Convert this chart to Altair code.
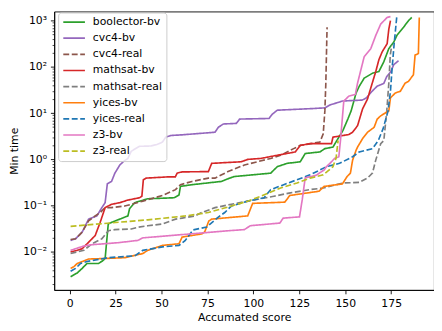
import json
import altair as alt
import pandas as pd

series_names = ["boolector-bv", "cvc4-bv", "cvc4-real", "mathsat-bv", "mathsat-real",
                "yices-bv", "yices-real", "z3-bv", "z3-real"]

boolector_bv_x = [0.5, 4.1, 6.8, 9.4, 15.7, 18.4, 19.3, 21.0, 22.8, 31.7, 32.6, 35.4, 42.5, 56.8, 59.5, 60.3,
                  66.6, 82.6, 87.1, 89.6, 109.4, 113.0, 118.4, 125.5, 128.2, 136.2, 138.9, 143.3, 146.0, 148.7,
                  151.4, 153.2, 155.9, 157.6, 160.3, 164.8, 168.3, 171.0, 173.7, 176.4, 178.1, 181.7, 184.4, 186.2]
boolector_bv_y = [0.0029, 0.0035, 0.0044, 0.0056, 0.0056, 0.0066, 0.0072, 0.040, 0.0435, 0.060, 0.086, 0.116,
                  0.141, 0.148, 0.17, 0.261, 0.284, 0.334, 0.394, 0.426, 0.504, 0.697, 0.822, 0.889, 1.34, 1.45,
                  1.71, 1.85, 2.80, 4.20, 7.45, 11.2, 27.4, 38.1, 57.2, 73.1, 79.4, 130, 249, 345, 480, 720,
                  1000, 1175]

cvc4_bv_x = [0.5, 3.2, 6.8, 10.3, 14.8, 17.5, 19.3, 20.5, 22.8, 24.6, 27.3, 29.1, 31.7, 33.5, 38.0, 44.2,
             47.8, 50.5, 52.3, 55.0, 61.2, 79.1, 80.9, 83.6, 90.7, 92.5, 108.5, 110.3, 113.0, 130.8, 138.9,
             141.6, 148.5, 159.2, 161.4, 164.6, 167.3, 171.0, 172.6, 174.8, 176.4, 179.0]
cvc4_bv_y = [0.0177, 0.0192, 0.0267, 0.0511, 0.060, 0.0906, 0.116, 0.298, 0.334, 0.504, 0.757, 0.889, 1.05,
             1.50, 1.92, 1.95, 2.12, 2.37, 3.03, 3.29, 3.40, 3.87, 4.94, 5.83, 6.01, 7.45, 7.68, 9.52, 11.6,
             12.5, 13.0, 15.0, 18.3, 19.2, 21.2, 29.8, 38.1, 44.2, 62.2, 79.4, 112, 136]

cvc4_real_x = [0.5, 3.2, 6.8, 10.3, 13.9, 16.6, 19.3, 22.8, 30.0, 39.8, 50.5, 57.6, 60.3, 66.6, 75.5, 79.1,
               86.2, 95.1, 109.4, 114.8, 121.9, 125.5, 136.2, 138.0, 138.9, 139.4, 139.8, 140.1]
cvc4_real_y = [0.0185, 0.0192, 0.0267, 0.047, 0.060, 0.071, 0.0906, 0.0906, 0.098, 0.125, 0.166, 0.222,
               0.284, 0.334, 0.394, 0.394, 0.545, 0.757, 1.05, 1.23, 1.71, 2.01, 2.37, 3.57, 11.2, 41.4,
               212, 720]

mathsat_bv_x = [0.5, 4.1, 6.8, 8.6, 11.3, 13.9, 16.6, 19.3, 22.8, 27.3, 31.7, 38.0, 39.3, 40.1, 41.6, 54.1,
                57.5, 58.5, 61.2, 75.5, 77.3, 93.4, 96.9, 104.1, 113.0, 122.8, 125.5, 130.8, 142.5, 143.3,
                151.9, 154.0, 156.7, 159.4, 162.1, 163.9, 166.6, 168.3, 170.1, 172.8, 173.7, 174.6]
mathsat_bv_y = [0.0100, 0.0108, 0.0117, 0.0138, 0.0177, 0.0226, 0.0435, 0.0906, 0.107, 0.116, 0.132, 0.148,
                0.160, 0.363, 0.394, 0.42, 0.42, 0.504, 0.537, 0.545, 0.822, 0.889, 1.0, 1.05, 1.23, 1.45,
                2.01, 2.19, 2.19, 3.03, 3.45, 3.87, 5.37, 12.3, 20.2, 35.1, 79.4, 143, 212, 318, 653, 1000]

mathsat_real_x = [0.5, 7.7, 12.1, 17.5, 21.1, 24.6, 33.5, 37.1, 42.5, 50.5, 57.6, 61.2, 68.3, 71.9, 79.1,
                  88.0, 96.9, 111.2, 120.1, 130.8, 138.0, 148.7, 157.6, 162.1, 164.8, 166.6, 169.3, 171.0,
                  172.6, 173.7, 174.5, 175.3]
mathsat_real_y = [0.0092, 0.0108, 0.0150, 0.0192, 0.0288, 0.0303, 0.0313, 0.0340, 0.0368, 0.040, 0.0511,
                  0.0537, 0.060, 0.071, 0.0906, 0.107, 0.125, 0.160, 0.189, 0.222, 0.241, 0.309, 0.318, 0.394,
                  0.504, 0.966, 2.19, 2.57, 11.2, 44.2, 180, 294]

yices_bv_x = [0.5, 2.3, 4.1, 10.3, 19.3, 30.0, 39.8, 42.5, 50.5, 59.5, 61.2, 71.9, 73.5, 75.7, 77.3, 96.9,
              99.6, 117.1, 119.8, 126.0, 135.7, 138.5, 148.4, 151.0, 152.8, 154.0, 155.9, 156.7, 159.4, 162.1,
              165.7, 167.4, 169.3, 173.7, 174.6, 177.3, 180.0, 182.6, 184.4, 187.1, 188.0, 189.8, 190.3]
yices_bv_y = [0.0044, 0.0048, 0.0056, 0.0070, 0.0072, 0.0075, 0.0092, 0.0108, 0.0138, 0.0150, 0.0209, 0.0245,
              0.0270, 0.0464, 0.0511, 0.060, 0.112, 0.119, 0.166, 0.180, 0.205, 0.261, 0.294, 0.426, 0.504,
              0.966, 1.58, 1.85, 2.80, 3.87, 4.94, 7.45, 8.76, 11.2, 21.5, 27.4, 29.8, 44.8, 48.7, 67.6, 180,
              195, 1175]

yices_real_x = [0.5, 3.2, 5.9, 9.4, 21.1, 35.4, 39.8, 50.5, 59.5, 62.8, 67.1, 74.6, 80.9, 84.4, 88.0, 96.9,
                105.8, 109.4, 116.5, 123.7, 130.8, 139.8, 146.9, 154.0, 157.6, 164.8, 168.0, 170.6, 173.3,
                174.6, 175.5, 176.6, 178.0]
yices_real_y = [0.0038, 0.0044, 0.0056, 0.0062, 0.0075, 0.0082, 0.0108, 0.0128, 0.0138, 0.0174, 0.0298,
                0.0345, 0.0564, 0.071, 0.098, 0.125, 0.148, 0.222, 0.284, 0.363, 0.463, 0.697, 0.822, 1.14,
                1.45, 1.71, 2.57, 4.63, 11.2, 29.8, 93.4, 313, 1175]

z3_bv_x = [0.5, 7.7, 12.1, 26.4, 37.1, 39.8, 87.1, 95.1, 98.3, 114.4, 116.2, 125.1, 126.6, 128.2, 134.1,
           138.5, 139.8, 142.5, 144.2, 146.5, 147.4, 149.2, 151.9, 155.5, 156.7, 160.3, 163.9, 166.6, 169.3,
           172.8, 174.6]
z3_bv_y = [0.0108, 0.0134, 0.0143, 0.0158, 0.0177, 0.0201, 0.0288, 0.0303, 0.0368, 0.042, 0.0537, 0.0572,
           0.136, 0.40, 0.452, 0.592, 0.697, 0.889, 1.05, 1.14, 2.57, 18.3, 23.3, 25.4, 44.8, 166, 249, 480,
           847, 1175, 1230]

z3_real_x = [0.5, 42.5, 63.0, 75.5, 88.0, 96.9, 104.1, 114.8, 123.7, 130.8, 138.0, 143.3, 145.0, 146.1]
z3_real_y = [0.0357, 0.0494, 0.060, 0.071, 0.098, 0.125, 0.160, 0.241, 0.309, 0.394, 0.463, 0.697, 1.07, 2.57]

x_ticks = [0, 25, 50, 75, 100, 125, 150, 175]
y_ticks = [0.01, 0.1, 1, 10, 100, 1000]
y_tick_labels = ["10⁻²", "10⁻¹", "10⁰", "10¹", "10²", "10³"]

colors = ["#2ca02c", "#9467bd", "#8c564b", "#d62728", "#7f7f7f", "#ff7f0e", "#1f77b4", "#e377c2", "#bcbd22"]
dash_solid = [1, 0]
dash_dashed = [6, 2.6]
dashes = [dash_solid, dash_solid, dash_dashed, dash_solid, dash_dashed, dash_solid, dash_dashed,
          dash_solid, dash_dashed]

all_x = [boolector_bv_x, cvc4_bv_x, cvc4_real_x, mathsat_bv_x, mathsat_real_x, yices_bv_x, yices_real_x,
         z3_bv_x, z3_real_x]
all_y = [boolector_bv_y, cvc4_bv_y, cvc4_real_y, mathsat_bv_y, mathsat_real_y, yices_bv_y, yices_real_y,
         z3_bv_y, z3_real_y]

rows = []
for name, xs, ys in zip(series_names, all_x, all_y):
    for xv, yv in zip(xs, ys):
        rows.append({"series": name, "score": xv, "time": yv})
df = pd.DataFrame(rows)

minor_ticks = [m * 10.0 ** e for e in range(-3, 4) for m in range(2, 10)]
minor_ticks = [v for v in minor_ticks if 0.0015 < v < 1578]

FONT = "DejaVu Sans"
x_scale = alt.Scale(domain=[-8.4, 198.3], nice=False, zero=False)
y_scale = alt.Scale(type="log", domain=[0.001502, 1578], nice=False)

label_expr = json.dumps(y_tick_labels, ensure_ascii=False) + "[round(log(datum.value)/LN10)+2]"

x_axis = alt.Axis(values=x_ticks, title="Accumated score", labelFlush=False, titlePadding=3)

legend = alt.Legend(
    title=None, orient="none", legendX=4, legendY=1,
    symbolType="stroke", symbolSize=484, symbolStrokeWidth=1.67,
    clipHeight=11, rowPadding=4.4, padding=4.2, labelOffset=7,
    labelFont=FONT, labelFontSize=11, labelColor="black",
    strokeColor="#cccccc", fillColor="rgba(255,255,255,0.8)", cornerRadius=3,
)

base = alt.Chart(df)

lines = base.mark_line(strokeWidth=1.67, clip=True).encode(
    x=alt.X("score:Q", scale=x_scale, axis=x_axis),
    y=alt.Y("time:Q", scale=y_scale,
            axis=alt.Axis(values=y_ticks, labelExpr=label_expr, title="Min time", orient="left",
                          titlePadding=3)),
    color=alt.Color("series:N", scale=alt.Scale(domain=series_names, range=colors), legend=legend),
    strokeDash=alt.StrokeDash("series:N", scale=alt.Scale(domain=series_names, range=dashes), legend=legend),
)

minor = base.mark_line(opacity=0).encode(
    x=alt.X("score:Q", scale=x_scale, axis=x_axis),
    y=alt.Y("time:Q", scale=y_scale,
            axis=alt.Axis(values=minor_ticks, labels=False, domain=False, title=None, orient="left",
                          tickSize=2.2, tickWidth=0.7)),
    detail="series:N",
)

chart = alt.layer(lines, minor).resolve_axis(y="independent").properties(
    width=386, height=283,
    autosize=alt.AutoSizeParams(type="none"),
    padding={"left": 47, "top": 1, "right": 0, "bottom": 31},
).configure_view(
    stroke="black", strokeWidth=0.9
).configure_axis(
    grid=False, domainColor="black", domainWidth=0.9, tickColor="black", tickWidth=0.9, tickSize=3.9,
    labelFont=FONT, labelFontSize=11, labelColor="black", labelPadding=3.9,
    titleFont=FONT, titleFontSize=11, titleFontWeight="normal", titleColor="black",
)

chart.save("out.html", embed_options={"renderer": "svg", "actions": False})
